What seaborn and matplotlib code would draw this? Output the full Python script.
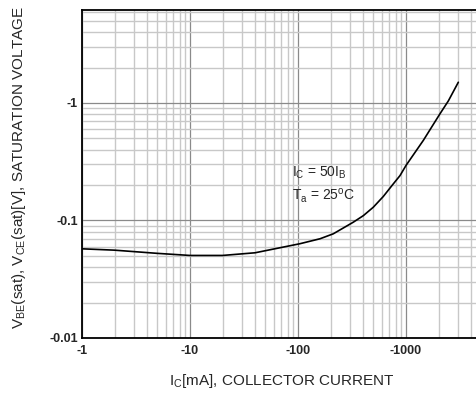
import seaborn as sns
import matplotlib
matplotlib.use("Agg")
import matplotlib.pyplot as plt
from matplotlib.ticker import LogLocator, NullFormatter
import pandas as pd

# collector current [mA] (magnitude) and saturation voltage [V] (magnitude)
ic_ma = [1, 2, 5, 10, 20, 40, 104, 160, 212, 325, 403, 498, 616, 763, 880, 1000,
         1446, 2065, 2465, 3050]
v_sat = [0.0574, 0.0559, 0.0525, 0.0504, 0.0504, 0.0531, 0.0634, 0.0699, 0.077, 0.0967,
         0.110, 0.1297, 0.160, 0.205, 0.241, 0.294, 0.48, 0.81, 1.04, 1.5]

x_ticks = [1, 10, 100, 1000]
x_labels = ["-1", "-10", "-100", "-1000"]
y_ticks = [0.01, 0.1, 1]
y_labels = ["-0.01", "-0.1", "-1"]

df = pd.DataFrame({"ic": ic_ma, "v": v_sat})

sns.set_style("white")
plt.rcParams["font.family"] = ["Liberation Sans", "DejaVu Sans"]
plt.rcParams["mathtext.fontset"] = "custom"
plt.rcParams["mathtext.rm"] = "Liberation Sans"
plt.rcParams["mathtext.it"] = "Liberation Sans"

fig = plt.figure(figsize=(4.76, 4.03), dpi=100)
# axes runs a bit past the right edge of the picture, like the cropped original
ax = fig.add_axes([82 / 476, 65 / 403, 399.5 / 476, 328 / 403])

sns.lineplot(data=df, x="ic", y="v", ax=ax, color="black", linewidth=1.2)

ax.set_xscale("log")
ax.set_yscale("log")
ax.set_xlim(1, 5000)
ax.set_ylim(0.01, 6.18)

ax.xaxis.set_minor_locator(LogLocator(base=10, subs=range(2, 10)))
ax.yaxis.set_minor_locator(LogLocator(base=10, subs=range(2, 10)))
ax.xaxis.set_minor_formatter(NullFormatter())
ax.yaxis.set_minor_formatter(NullFormatter())
ax.set_xticks(x_ticks)
ax.set_xticklabels(x_labels, fontweight="bold", fontsize=9)
ax.set_yticks(y_ticks)
ax.set_yticklabels(y_labels, fontweight="bold", fontsize=9)
ax.tick_params(which="both", length=0)
ax.tick_params(axis="x", pad=5)
ax.tick_params(axis="y", pad=3)

ax.grid(which="minor", color="#c8c8c8", linewidth=1.0)
ax.grid(which="major", color="#8a8a8a", linewidth=0.9)
ax.set_axisbelow(True)

for side in ["left", "bottom", "top"]:
    ax.spines[side].set_color("black")
    ax.spines[side].set_linewidth(1.3)
ax.spines["right"].set_visible(False)

ax.set_xlabel("I$_\\mathregular{C}$[mA], COLLECTOR CURRENT", fontsize=11)
ax.set_ylabel("V$_\\mathregular{BE}$(sat), V$_\\mathregular{CE}$(sat)[V], SATURATION VOLTAGE", fontsize=11)
ax.xaxis.set_label_coords(0.5, -0.104)
ax.xaxis.label.set_va("top")
ax.yaxis.set_label_coords(-0.135, 0.52)

ax.text(88, 0.256, "I$_\\mathregular{C}$ = 50I$_\\mathregular{B}$", fontsize=10, va="center", ha="left")
ax.text(88, 0.163, "T$_\\mathregular{a}$ = 25$^\\mathregular{o}$C", fontsize=10, va="center", ha="left")

fig.savefig("out.png", dpi=100)
